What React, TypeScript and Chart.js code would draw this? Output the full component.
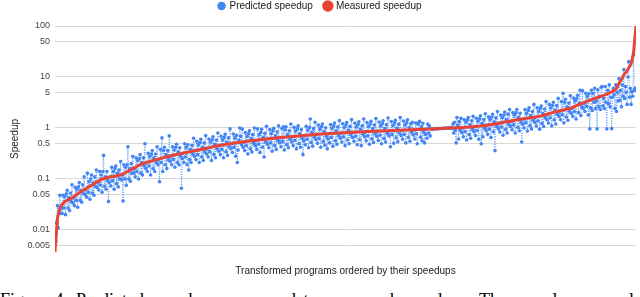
import React, { useEffect, useRef } from "react";
import { Chart, registerables } from "chart.js";

Chart.register(...registerables);

// Measured speedup (sorted ascending), one value every 3rd program rank
const measured: number[] = [
  0.0037, 0.017, 0.027, 0.032, 0.036, 0.038, 0.04, 0.043, 0.046, 0.05,
  0.054, 0.058, 0.062, 0.066, 0.071, 0.075, 0.08, 0.086, 0.092, 0.098,
  0.101, 0.105, 0.108, 0.111, 0.112, 0.114, 0.117, 0.121, 0.126, 0.134,
  0.141, 0.15, 0.16, 0.17, 0.18, 0.19, 0.2, 0.207, 0.214, 0.22,
  0.228, 0.235, 0.243, 0.25, 0.257, 0.265, 0.272, 0.28, 0.288, 0.295,
  0.302, 0.31, 0.317, 0.325, 0.332, 0.34, 0.347, 0.355, 0.362, 0.37,
  0.378, 0.387, 0.397, 0.407, 0.417, 0.427, 0.437, 0.447, 0.456, 0.465,
  0.474, 0.483, 0.492, 0.5, 0.508, 0.516, 0.524, 0.532, 0.539, 0.547,
  0.554, 0.562, 0.57, 0.578, 0.585, 0.593, 0.6, 0.608, 0.615, 0.622,
  0.628, 0.635, 0.642, 0.65, 0.656, 0.663, 0.67, 0.677, 0.684, 0.69,
  0.697, 0.703, 0.71, 0.717, 0.724, 0.731, 0.738, 0.745, 0.752, 0.758,
  0.763, 0.768, 0.773, 0.778, 0.783, 0.788, 0.793, 0.798, 0.803, 0.808,
  0.812, 0.817, 0.822, 0.826, 0.831, 0.835, 0.84, 0.844, 0.848, 0.852,
  0.856, 0.86, 0.864, 0.868, 0.872, 0.876, 0.88, 0.884, 0.888, 0.892,
  0.895, 0.899, 0.903, 0.907, 0.911, 0.915, 0.919, 0.923, 0.927, 0.931,
  0.935, 0.94, 0.945, 0.95, 0.955, 0.96, 0.965, 0.97, 0.975, 0.98,
  0.985, 0.99, 0.995, 1.0, 1.0, 1.01, 1.01, 1.02, 1.02, 1.03,
  1.04, 1.05, 1.06, 1.07, 1.08, 1.1, 1.11, 1.12, 1.14, 1.16,
  1.18, 1.2, 1.22, 1.25, 1.28, 1.31, 1.33, 1.36, 1.39, 1.42,
  1.45, 1.47, 1.5, 1.52, 1.55, 1.57, 1.6, 1.62, 1.65, 1.69,
  1.73, 1.78, 1.84, 1.9, 1.96, 2.02, 2.08, 2.13, 2.19, 2.25,
  2.31, 2.37, 2.44, 2.55, 2.68, 2.8, 2.93, 3.06, 3.2, 3.35,
  3.5, 3.65, 3.8, 3.95, 4.1, 4.25, 4.4, 4.6, 4.85, 5.1,
  5.5, 6.0, 7.5, 8.8, 11, 12.5, 15, 18, 30, 100,
];

// Predicted speedup for every program rank (1..718)
const predicted: number[] = [
  0.0055, 0.006, 0.014, 0.03, 0.011, 0.022, 0.048, 0.021, 0.027, 0.021, 0.048, 0.027, 0.045, 0.02, 0.051, 0.06, 0.027, 0.043, 0.024, 0.053, 0.036, 0.077, 0.034, 0.043, 0.03, 0.069, 0.038, 0.063, 0.028, 0.07,
  0.085, 0.038, 0.06, 0.035, 0.077, 0.052, 0.11, 0.049, 0.062, 0.044, 0.13, 0.055, 0.089, 0.04, 0.1, 0.12, 0.053, 0.084, 0.048, 0.11, 0.071, 0.15, 0.068, 0.086, 0.061, 0.14, 0.076, 0.12, 0.055, 0.14,
  0.29, 0.072, 0.11, 0.063, 0.14, 0.093, 0.036, 0.085, 0.11, 0.073, 0.17, 0.092, 0.14, 0.063, 0.16, 0.18, 0.081, 0.13, 0.07, 0.15, 0.1, 0.22, 0.096, 0.12, 0.037, 0.19, 0.1, 0.17, 0.075, 0.19,
  0.43, 0.1, 0.16, 0.09, 0.2, 0.13, 0.28, 0.13, 0.16, 0.11, 0.26, 0.14, 0.23, 0.1, 0.25, 0.3, 0.13, 0.21, 0.12, 0.26, 0.18, 0.49, 0.16, 0.21, 0.14, 0.32, 0.18, 0.28, 0.12, 0.31,
  0.36, 0.16, 0.26, 0.14, 0.31, 0.21, 0.43, 0.19, 0.24, 0.088, 0.38, 0.21, 0.64, 0.14, 0.36, 0.42, 0.19, 0.3, 0.16, 0.36, 0.24, 0.7, 0.22, 0.28, 0.19, 0.43, 0.24, 0.37, 0.17, 0.42,
  0.48, 0.21, 0.34, 0.19, 0.41, 0.28, 0.066, 0.25, 0.32, 0.21, 0.49, 0.27, 0.42, 0.19, 0.47, 0.15, 0.24, 0.38, 0.21, 0.46, 0.31, 0.63, 0.28, 0.36, 0.24, 0.55, 0.3, 0.47, 0.21, 0.52,
  0.6, 0.27, 0.42, 0.23, 0.51, 0.34, 0.71, 0.31, 0.4, 0.27, 0.61, 0.34, 0.53, 0.23, 0.59, 0.67, 0.3, 0.48, 0.26, 0.58, 0.39, 0.8, 0.35, 0.45, 0.3, 0.69, 0.38, 0.59, 0.26, 0.66,
  0.75, 0.34, 0.53, 0.29, 0.64, 0.43, 0.96, 0.39, 0.49, 0.33, 0.76, 0.42, 0.64, 0.28, 0.72, 0.21, 0.37, 0.58, 1.0, 0.69, 0.47, 0.95, 0.42, 0.53, 0.36, 0.81, 0.45, 0.69, 0.31, 0.77,
  0.88, 0.39, 0.62, 0.34, 0.74, 0.5, 1.0, 0.45, 0.57, 0.38, 0.96, 0.48, 0.74, 0.33, 0.82, 0.94, 0.42, 0.66, 0.27, 0.79, 0.53, 1.08, 0.48, 0.61, 0.41, 0.93, 0.51, 0.78, 0.35, 0.88,
  0.99, 0.45, 0.7, 0.38, 0.84, 0.57, 1.1, 0.51, 0.64, 0.43, 0.98, 0.54, 1.05, 0.37, 0.92, 1.05, 0.47, 0.74, 0.41, 0.88, 0.6, 1.2, 0.53, 0.68, 0.45, 1.03, 0.57, 0.87, 0.39, 0.97,
  1.1, 0.49, 0.78, 0.42, 0.93, 0.63, 0.3, 0.56, 0.71, 0.47, 1.08, 0.6, 0.91, 0.41, 1.02, 1.5, 0.52, 0.82, 0.44, 0.97, 0.66, 1.3, 0.59, 0.75, 0.5, 1.14, 0.62, 0.96, 0.42, 1.07,
  1.2, 0.54, 0.85, 0.46, 1.01, 0.68, 0.39, 0.61, 0.77, 0.51, 1.17, 0.65, 0.99, 0.44, 1.1, 1.25, 0.56, 0.88, 0.48, 1.05, 0.71, 1.4, 0.63, 0.8, 0.53, 1.21, 0.67, 1.02, 0.45, 1.14,
  1.28, 0.58, 0.91, 0.49, 1.08, 0.73, 1.46, 0.65, 0.82, 0.55, 1.25, 0.69, 1.05, 0.47, 1.17, 1.32, 0.59, 0.94, 0.45, 1.11, 0.75, 1.5, 0.67, 0.84, 0.56, 1.28, 0.7, 1.07, 0.48, 1.2,
  1.35, 0.61, 0.96, 0.52, 1.14, 0.77, 1.54, 0.68, 0.86, 0.57, 1.31, 0.72, 1.1, 0.49, 1.23, 1.38, 0.62, 0.98, 0.53, 1.16, 0.78, 1.57, 0.7, 0.88, 0.43, 1.34, 0.74, 1.12, 0.5, 1.26,
  1.41, 0.64, 1.0, 0.54, 1.19, 0.8, 1.6, 0.71, 0.9, 0.6, 1.37, 0.75, 1.15, 0.51, 1.28, 1.45, 0.65, 1.02, 0.55, 1.21, 0.82, 1.3, 0.73, 0.92, 0.61, 1.25, 0.77, 0.49, 1.17, 1.3,
  1.35, 0.66, 1.05, 0.56, 1.24, 0.84, 0.51, 0.75, 0.95, 0.63, 1.2, 0.79, 1.1, 0.7, 0.955, 0.96, 0.96, 0.96, 0.965, 0.965, 0.965, 0.97, 0.97, 0.97, 0.975, 0.975, 0.975, 0.98, 0.98, 0.98,
  0.985, 0.985, 0.985, 0.99, 0.99, 0.99, 0.995, 0.995, 0.995, 1.0, 1.0, 1.2, 0.8, 1.3, 0.9, 0.51, 1.6, 1.13, 0.61, 1.33, 0.9, 1.55, 0.81, 1.02, 0.67, 1.45, 0.85, 1.3, 0.58, 1.45,
  1.6, 0.74, 1.16, 0.63, 1.39, 0.93, 1.7, 0.84, 1.06, 0.71, 1.55, 0.89, 1.36, 0.6, 1.52, 1.74, 0.49, 1.23, 0.67, 1.47, 0.99, 1.9, 0.88, 1.12, 0.75, 1.65, 0.95, 1.46, 0.65, 1.64,
  1.86, 0.84, 1.32, 0.36, 1.58, 1.07, 2.1, 0.96, 1.22, 0.83, 1.8, 1.04, 1.61, 0.72, 1.8, 2.05, 0.93, 1.47, 0.8, 1.87, 1.18, 2.3, 1.07, 1.36, 0.92, 2.0, 1.15, 1.79, 0.8, 2.0,
  2.3, 1.03, 1.62, 0.88, 1.94, 1.31, 0.53, 1.19, 1.5, 1.0, 2.3, 1.26, 1.95, 0.87, 2.2, 2.5, 1.11, 1.76, 0.96, 2.1, 1.42, 2.9, 1.28, 1.62, 1.09, 2.5, 1.37, 2.1, 0.95, 2.4,
  2.7, 1.23, 1.94, 1.07, 2.35, 1.58, 3.3, 1.45, 1.84, 1.25, 2.9, 1.58, 2.5, 1.1, 2.8, 3.2, 1.43, 2.26, 1.2, 2.75, 1.85, 3.8, 1.68, 2.13, 1.45, 3.3, 1.82, 4.8, 1.26, 3.2,
  3.65, 1.64, 2.6, 1.42, 3.1, 2.1, 4.3, 1.93, 2.44, 1.68, 3.85, 2.1, 3.4, 1.5, 3.8, 4.4, 2.0, 3.1, 5.5, 1.76, 2.6, 5.4, 2.4, 3.06, 2.1, 4.8, 2.65, 4.2, 1.8, 4.7,
  0.96, 2.5, 5.5, 2.2, 4.8, 3.2, 6.0, 2.4, 3.4, 0.96, 5.6, 2.6, 4.2, 2.3, 6.3, 6.5, 2.7, 3.8, 2.4, 6.5, 3.2, 0.96, 5.5, 3.0, 7.0, 2.6, 4.0, 0.97, 4.0, 6.0,
  4.5, 2.4, 7.0, 2.1, 5.0, 3.4, 9.3, 3.5, 5.5, 2.6, 7.0, 4.2, 14, 3.8, 6.5, 5.0, 2.9, 10, 20, 4.0, 6.0, 2.9, 5.2, 4.2, 27, 5.5, 6.0, 5.5,
];

const measuredStep = 3; // measured values are read at every 3rd program rank
const yTickValues: number[] = [0.005, 0.01, 0.05, 0.1, 0.5, 1, 5, 10, 50, 100];
const seriesNames: string[] = ["Predicted speedup", "Measured speedup"];
const xTitle = "Transformed programs ordered by their speedups";
const yTitle = "Speedup";
const caption =
  "Figure 4: Predicted speedups compared to measured speedups. The samples are ordered in ascending order";

const SANS = "'Liberation Sans', Arial, sans-serif";

export default function App() {
  const ref = useRef<HTMLCanvasElement>(null);

  useEffect(() => {
    document.body.style.margin = "0";
    const legendFit = {
      id: "legendFit",
      beforeInit(chart: any) {
        const lg = chart.legend;
        if (!lg) return;
        const orig = lg.fit;
        lg.fit = function () {
          orig.call(this);
          this.height = 37;
        };
      },
    };
    const predictedPts = predicted.map((y, i) => ({ x: i + 1, y }));
    const measuredPts = measured.map((y, i) => ({ x: i * measuredStep + 1, y }));
    const chart = new Chart(ref.current as HTMLCanvasElement, {
      type: "line",
      data: {
        datasets: [
          {
            label: seriesNames[0],
            data: predictedPts,
            borderColor: "rgba(66,133,244,0.85)",
            backgroundColor: "#4285f4",
            borderWidth: 1,
            borderDash: [1, 1.5],
            pointRadius: 1.8,
            pointBorderWidth: 0,
            pointBackgroundColor: "#4285f4",
            tension: 0,
            order: 2,
          },
          {
            label: seriesNames[1],
            data: measuredPts,
            borderColor: "#ea4335",
            backgroundColor: "#ea4335",
            borderWidth: 3,
            pointRadius: 0,
            tension: 0,
            order: 1,
          },
        ],
      },
      options: {
        responsive: false,
        animation: false,
        parsing: false,
        layout: { padding: { top: -11, left: 0, right: 0, bottom: 0 } },
        plugins: {
          legend: {
            position: "top",
            labels: {
              usePointStyle: true,
              pointStyle: "circle",
              boxWidth: 6,
              boxHeight: 6,
              padding: 12,
              color: "#222",
              font: { family: SANS, size: 10 },
              sort: (a: any, b: any) => a.datasetIndex - b.datasetIndex,
            },
          },
          tooltip: { enabled: false },
        },
        scales: {
          x: {
            type: "linear",
            min: 1,
            max: predicted.length,
            offset: false,
            grid: { display: false, drawTicks: false },
            border: { display: false },
            ticks: { display: false },
            title: {
              display: true,
              text: xTitle,
              color: "#222",
              font: { family: SANS, size: 10 },
              padding: { top: 13, bottom: 4 },
            },
          },
          y: {
            type: "logarithmic",
            min: 0.0037,
            max: 100,
            afterBuildTicks: (scale: any) => {
              scale.ticks = yTickValues.map((v) => ({ value: v }));
            },
            afterFit: (scale: any) => {
              scale.width = 55;
            },
            ticks: {
              autoSkip: false,
              padding: 5,
              color: "#444",
              font: { family: SANS, size: 9 },
              callback: (v: any) => String(v),
            },
            grid: { color: "#d9d9d9", drawTicks: false, lineWidth: 1 },
            border: { display: false },
            title: {
              display: true,
              text: yTitle,
              color: "#222",
              font: { family: SANS, size: 10 },
              padding: { top: 9, bottom: 0 },
            },
          },
        },
      },
      plugins: [legendFit],
    } as any);
    return () => chart.destroy();
  }, []);

  return (
    <div style={{ position: "relative", width: 640, height: 297, overflow: "hidden", background: "#fff" }}>
      <canvas ref={ref} width={640} height={281} style={{ display: "block" }} />
      <div
        style={{
          position: "absolute",
          top: 290,
          left: 0,
          width: 700,
          whiteSpace: "nowrap",
          fontFamily: "'Liberation Serif', 'Times New Roman', serif",
          fontSize: 18,
          wordSpacing: 3,
          color: "#000",
        }}
      >
        {caption}
      </div>
    </div>
  );
}
